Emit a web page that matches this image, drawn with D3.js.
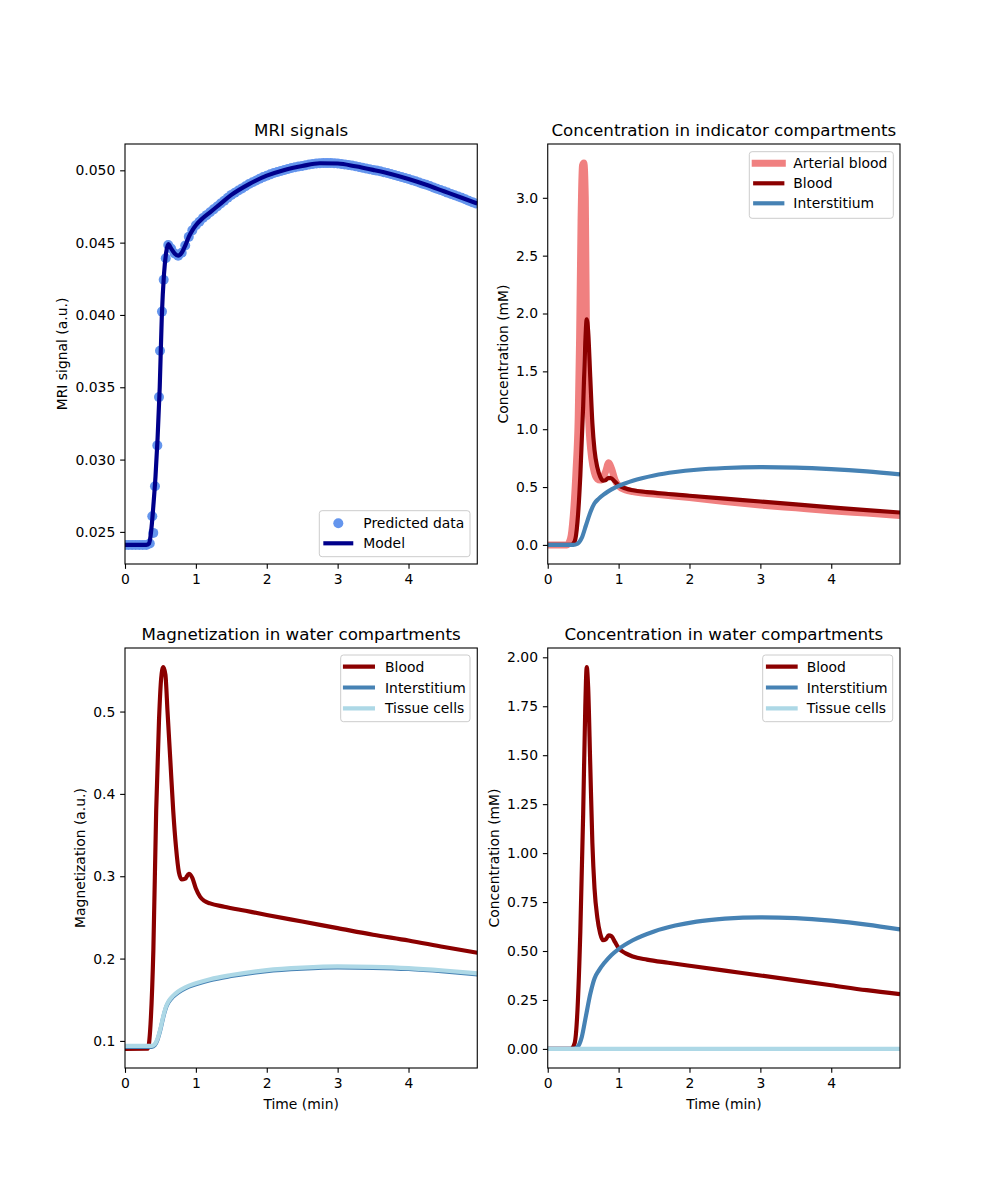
<!DOCTYPE html>
<html><head><meta charset="utf-8">
<script src="https://cdn.jsdelivr.net/npm/d3@7"></script>
<style>
body{margin:0;background:#fff;}
text{font-family:"DejaVu Sans",sans-serif;fill:#000;}
</style>
</head><body>
<svg id="fig" width="1000" height="1200" xmlns="http://www.w3.org/2000/svg"></svg>
<script>
// ---------------- DATA ----------------
const xTicks = [0, 1, 2, 3, 4];
const mriTicks = [0.025, 0.030, 0.035, 0.040, 0.045, 0.050];
const concTicks = [0.0, 0.5, 1.0, 1.5, 2.0, 2.5, 3.0];
const magTicks = [0.1, 0.2, 0.3, 0.4, 0.5];
const waterTicks = [0.00, 0.25, 0.50, 0.75, 1.00, 1.25, 1.50, 1.75, 2.00];
const tMax = 4.97;

// MRI signal model
const mriModelTime = [0, 0.30, 0.34, 0.36, 0.38, 0.40, 0.43, 0.46, 0.49, 0.52, 0.55, 0.58, 0.61, 0.65, 0.70, 0.75, 0.80, 0.85, 0.90, 0.95, 1.0, 1.1, 1.2, 1.35, 1.5, 1.75, 2.0, 2.25, 2.5, 2.75, 3.0, 3.25, 3.5, 3.75, 4.0, 4.25, 4.5, 4.75, 4.97];
const mriModelSignal = [0.0241, 0.0241, 0.0242, 0.0247, 0.0256, 0.0268, 0.0288, 0.0315, 0.0350, 0.0400, 0.0428, 0.0443, 0.0449, 0.0446, 0.04425, 0.0441, 0.0443, 0.0448, 0.0454, 0.04585, 0.0462, 0.0467, 0.0471, 0.0477, 0.0483, 0.04905, 0.04963, 0.05003, 0.0503, 0.05049, 0.05047, 0.05028, 0.05003, 0.04975, 0.0494, 0.0490, 0.04855, 0.0481, 0.0477];

// MRI predicted data points
const mriDataTime = [0, 0.05, 0.10, 0.15, 0.20, 0.25, 0.30, 0.35, 0.385, 0.399, 0.423, 0.456, 0.48, 0.494, 0.522, 0.546, 0.575, 0.61,
  0.65, 0.70, 0.75, 0.80, 0.85, 0.90, 0.95, 1.00, 1.05, 1.10, 1.15, 1.20, 1.25, 1.30, 1.35, 1.40, 1.45, 1.50, 1.55, 1.60, 1.65, 1.70, 1.75, 1.80, 1.85, 1.90, 1.95,
  2.00, 2.05, 2.10, 2.15, 2.20, 2.25, 2.30, 2.35, 2.40, 2.45, 2.50, 2.55, 2.60, 2.65, 2.70, 2.75, 2.80, 2.85, 2.90, 2.95,
  3.00, 3.05, 3.10, 3.15, 3.20, 3.25, 3.30, 3.35, 3.40, 3.45, 3.50, 3.55, 3.60, 3.65, 3.70, 3.75, 3.80, 3.85, 3.90, 3.95,
  4.00, 4.05, 4.10, 4.15, 4.20, 4.25, 4.30, 4.35, 4.40, 4.45, 4.50, 4.55, 4.60, 4.65, 4.70, 4.75, 4.80, 4.85, 4.90, 4.95];
const mriDataSignal = [0.0241, 0.0241, 0.0241, 0.0241, 0.0241, 0.0241, 0.0241, 0.0242, 0.02608, 0.02493, 0.02815, 0.03098, 0.03432, 0.03752, 0.04023, 0.04244, 0.04392, 0.04484,
  0.04460, 0.04425, 0.04410, 0.04430, 0.04480, 0.04540, 0.04585, 0.04620, 0.04645, 0.04670, 0.04690, 0.04710, 0.04730, 0.04750, 0.04770, 0.04790, 0.04810, 0.04830, 0.04845, 0.04860, 0.04875, 0.04890, 0.04905, 0.04918, 0.04930, 0.04942, 0.04953,
  0.04963, 0.04972, 0.04981, 0.04989, 0.04996, 0.05003, 0.05010, 0.05016, 0.05021, 0.05026, 0.05030, 0.05035, 0.05040, 0.05044, 0.05047, 0.05049, 0.05050, 0.05050, 0.05050, 0.05049,
  0.05047, 0.05044, 0.05041, 0.05037, 0.05033, 0.05028, 0.05023, 0.05018, 0.05013, 0.05008, 0.05003, 0.04998, 0.04993, 0.04987, 0.04981, 0.04975, 0.04968, 0.04961, 0.04954, 0.04947,
  0.04940, 0.04932, 0.04924, 0.04916, 0.04908, 0.04900, 0.04891, 0.04882, 0.04873, 0.04864, 0.04855, 0.04846, 0.04837, 0.04828, 0.04819, 0.04810, 0.04800, 0.04790, 0.04780, 0.04770];

// Concentration, arterial blood (mM)
const arterialTime = [0, 0.27, 0.32, 0.36, 0.40, 0.43, 0.45, 0.47, 0.49, 0.51, 0.53, 0.55, 0.58, 0.62, 0.66, 0.70, 0.74, 0.78, 0.82, 0.86, 0.90, 0.95, 1.0, 1.1, 1.2, 1.5, 2.0, 2.5, 3.0, 3.5, 4.0, 4.5, 4.97];
const arterialConc = [0, 0, 0.05, 0.25, 0.65, 1.1, 1.8, 2.8, 3.28, 3.30, 3.0, 1.6, 1.05, 0.75, 0.62, 0.57, 0.56, 0.58, 0.64, 0.71, 0.66, 0.56, 0.51, 0.475, 0.46, 0.44, 0.41, 0.375, 0.345, 0.32, 0.295, 0.275, 0.255];

// Concentration, blood (mM)
const bloodTime = [0, 0.33, 0.38, 0.42, 0.46, 0.50, 0.53, 0.55, 0.57, 0.60, 0.63, 0.66, 0.70, 0.74, 0.78, 0.82, 0.86, 0.90, 0.95, 1.0, 1.1, 1.2, 1.4, 1.7, 2.0, 2.5, 3.0, 3.5, 4.0, 4.5, 4.97];
const bloodConc = [0, 0, 0.03, 0.2, 0.6, 1.2, 1.75, 1.95, 1.85, 1.45, 1.05, 0.82, 0.67, 0.59, 0.555, 0.56, 0.58, 0.575, 0.545, 0.515, 0.488, 0.472, 0.456, 0.44, 0.425, 0.40, 0.375, 0.35, 0.325, 0.30, 0.28];

// Concentration, interstitium (mM)
const interTime = [0, 0.36, 0.42, 0.48, 0.54, 0.60, 0.66, 0.72, 0.80, 0.90, 1.0, 1.2, 1.5, 1.8, 2.1, 2.5, 3.0, 3.5, 4.0, 4.5, 4.97];
const interConc = [0, 0, 0.01, 0.06, 0.17, 0.28, 0.36, 0.40, 0.44, 0.48, 0.51, 0.555, 0.60, 0.63, 0.65, 0.665, 0.672, 0.668, 0.655, 0.635, 0.61];

// Concentration, tissue cells (mM)
const cellTime = [0, 4.97];
const cellConc = [0, 0];

// Magnetization, blood (a.u.)
const magBloodTime = [0, 0.32, 0.36, 0.40, 0.44, 0.48, 0.51, 0.54, 0.57, 0.60, 0.64, 0.68, 0.72, 0.76, 0.80, 0.85, 0.90, 0.95, 1.0, 1.06, 1.12, 1.2, 1.4, 1.7, 2.0, 2.5, 3.0, 3.5, 4.0, 4.5, 4.97];
const magBlood = [0.0903, 0.0905, 0.12, 0.21, 0.38, 0.49, 0.54, 0.554, 0.545, 0.50, 0.44, 0.38, 0.335, 0.305, 0.296, 0.297, 0.303, 0.298, 0.285, 0.275, 0.270, 0.267, 0.263, 0.258, 0.253, 0.245, 0.237, 0.229, 0.222, 0.214, 0.207];

// Magnetization, interstitium and tissue cells (a.u.)
const magTissueTime = [0, 0.38, 0.42, 0.46, 0.50, 0.54, 0.58, 0.62, 0.68, 0.75, 0.85, 1.0, 1.2, 1.5, 2.0, 2.5, 3.0, 3.5, 4.0, 4.5, 4.97];
const magInter = [0.0928, 0.0928, 0.0948, 0.1018, 0.1138, 0.1288, 0.1408, 0.1478, 0.1538, 0.1588, 0.1638, 0.1688, 0.1738, 0.1788, 0.1848, 0.1878, 0.1893, 0.1888, 0.1873, 0.1843, 0.1808];
const magCells = [0.094, 0.094, 0.096, 0.103, 0.115, 0.13, 0.142, 0.149, 0.155, 0.16, 0.165, 0.17, 0.175, 0.18, 0.186, 0.189, 0.1905, 0.19, 0.1885, 0.1855, 0.182];

// ---------------- DRAW ----------------
const svg = d3.select("#fig");
const FS = 13.9;
const axW = 352.27, axH = 420;
const panels = [
  {x: 125, y: 144, title: "MRI signals", ylabel: "MRI signal (a.u.)", ylx: 67, xlabel: null, yticks: mriTicks, fmt: d3.format(".3f")},
  {x: 547.73, y: 144, title: "Concentration in indicator compartments", ylabel: "Concentration (mM)", ylx: 508, xlabel: null, yticks: concTicks, fmt: d3.format(".1f")},
  {x: 125, y: 648, title: "Magnetization in water compartments", ylabel: "Magnetization (a.u.)", ylx: 85, xlabel: "Time (min)", yticks: magTicks, fmt: d3.format(".1f")},
  {x: 547.73, y: 648, title: "Concentration in water compartments", ylabel: "Concentration (mM)", ylx: 499, xlabel: "Time (min)", yticks: waterTicks, fmt: d3.format(".2f")}
];

function series(ts, vs) { return ts.map((t, i) => [t, vs[i]]); }

const panelSeries = [
  [{kind: "dots", data: series(mriDataTime, mriDataSignal), color: "#6495ED", label: "Predicted data"},
   {kind: "line", data: series(mriModelTime, mriModelSignal), color: "#00008B", w: 4.17, label: "Model"}],
  [{kind: "line", data: series(arterialTime, arterialConc), color: "#F08080", w: 7, label: "Arterial blood"},
   {kind: "line", data: series(bloodTime, bloodConc), color: "#8B0000", w: 4.17, label: "Blood"},
   {kind: "line", data: series(interTime, interConc), color: "#4682B4", w: 4.17, label: "Interstitium"}],
  [{kind: "line", data: series(magBloodTime, magBlood), color: "#8B0000", w: 4.17, label: "Blood"},
   {kind: "line", data: series(magTissueTime, magInter), color: "#4682B4", w: 4.17, label: "Interstitium"},
   {kind: "line", data: series(magTissueTime, magCells), color: "#ADD8E6", w: 4.17, label: "Tissue cells"}],
  [{kind: "line", data: series(bloodTime, bloodConc), color: "#8B0000", w: 4.17, label: "Blood"},
   {kind: "line", data: series(interTime, interConc), color: "#4682B4", w: 4.17, label: "Interstitium"},
   {kind: "line", data: series(cellTime, cellConc), color: "#ADD8E6", w: 4.17, label: "Tissue cells"}]
];

const legends = [
  {x: 319.3, y: 510.7, w: 150.7, h: 46, rows: [523.3, 543.3], l1: 325.4, l2: 351.2, tx: 363.3},
  {x: 749.3, y: 151.7, w: 144, h: 66.6, rows: [163.3, 183.3, 203.3], l1: 755.2, l2: 782.3, tx: 793.3},
  {x: 340.7, y: 655, w: 129.3, h: 66.7, rows: [666.7, 687.5, 708.3], l1: 345, l2: 372.9, tx: 385},
  {x: 762.7, y: 655, w: 130, h: 66.7, rows: [666.7, 687.5, 708.3], l1: 768, l2: 795.6, tx: 806.7}
];

panels.forEach((p, i) => {
  const ser = panelSeries[i];
  let lo = Infinity, hi = -Infinity;
  ser.forEach(s => s.data.forEach(d => { lo = Math.min(lo, d[1]); hi = Math.max(hi, d[1]); }));
  const r = hi - lo;
  const x = d3.scaleLinear().domain([0, tMax]).range([p.x, p.x + axW]);
  const y = d3.scaleLinear().domain([lo - 0.05 * r, hi + 0.05 * r]).range([p.y + axH, p.y]);

  const clipId = "clip" + i;
  svg.append("clipPath").attr("id", clipId).append("rect")
    .attr("x", p.x).attr("y", p.y).attr("width", axW).attr("height", axH);
  const g = svg.append("g").attr("clip-path", `url(#${clipId})`);

  const line = d3.line().x(d => x(d[0])).y(d => y(d[1])).curve(d3.curveMonotoneX);
  ser.forEach(s => {
    if (s.kind === "dots") {
      g.selectAll(null).data(s.data).enter().append("circle")
        .attr("cx", d => x(d[0])).attr("cy", d => y(d[1])).attr("r", 5)
        .attr("fill", s.color);
    } else {
      g.append("path").datum(s.data).attr("d", line)
        .attr("fill", "none").attr("stroke", s.color).attr("stroke-width", s.w)
        .attr("stroke-linejoin", "round");
    }
  });

  // axes
  const xa = svg.append("g").attr("transform", `translate(0,${p.y + axH})`)
    .call(d3.axisBottom(x).tickValues(xTicks).tickFormat(d3.format("d")).tickSize(4.86).tickPadding(4.86));
  const ya = svg.append("g").attr("transform", `translate(${p.x},0)`)
    .call(d3.axisLeft(y).tickValues(p.yticks).tickFormat(p.fmt).tickSize(4.86).tickPadding(4.86));
  [xa, ya].forEach(a => {
    a.select(".domain").remove();
    a.selectAll("line").attr("stroke", "#000").attr("stroke-width", 1.1);
    a.selectAll("text").attr("font-size", FS).attr("font-family", "DejaVu Sans").attr("fill", "#000");
  });

  // spines
  svg.append("rect").attr("x", p.x).attr("y", p.y).attr("width", axW).attr("height", axH)
    .attr("fill", "none").attr("stroke", "#000").attr("stroke-width", 1.1);

  // title
  svg.append("text").attr("x", p.x + axW / 2).attr("y", p.y - 8.3)
    .attr("text-anchor", "middle").attr("font-size", 16.7).text(p.title);
  // y label
  svg.append("text").attr("transform", `translate(${p.ylx},${p.y + axH / 2}) rotate(-90)`)
    .attr("text-anchor", "middle").attr("font-size", FS).text(p.ylabel);
  if (p.xlabel) {
    svg.append("text").attr("x", p.x + axW / 2).attr("y", p.y + axH + 41)
      .attr("text-anchor", "middle").attr("font-size", FS).text(p.xlabel);
  }

  // legend
  const L = legends[i];
  svg.append("rect").attr("x", L.x).attr("y", L.y).attr("width", L.w).attr("height", L.h)
    .attr("rx", 2.8).attr("fill", "#fff").attr("fill-opacity", 0.8)
    .attr("stroke", "#cccccc").attr("stroke-width", 1);
  ser.forEach((s, k) => {
    const cy = L.rows[k];
    if (s.kind === "dots") {
      svg.append("circle").attr("cx", (L.l1 + L.l2) / 2).attr("cy", cy).attr("r", 5).attr("fill", s.color);
    } else {
      svg.append("line").attr("x1", L.l1).attr("x2", L.l2).attr("y1", cy).attr("y2", cy)
        .attr("stroke", s.color).attr("stroke-width", s.w).attr("stroke-linecap", "square");
    }
    svg.append("text").attr("x", L.tx).attr("y", cy + 5).attr("font-size", FS).text(s.label);
  });
});
</script>
</body></html>
